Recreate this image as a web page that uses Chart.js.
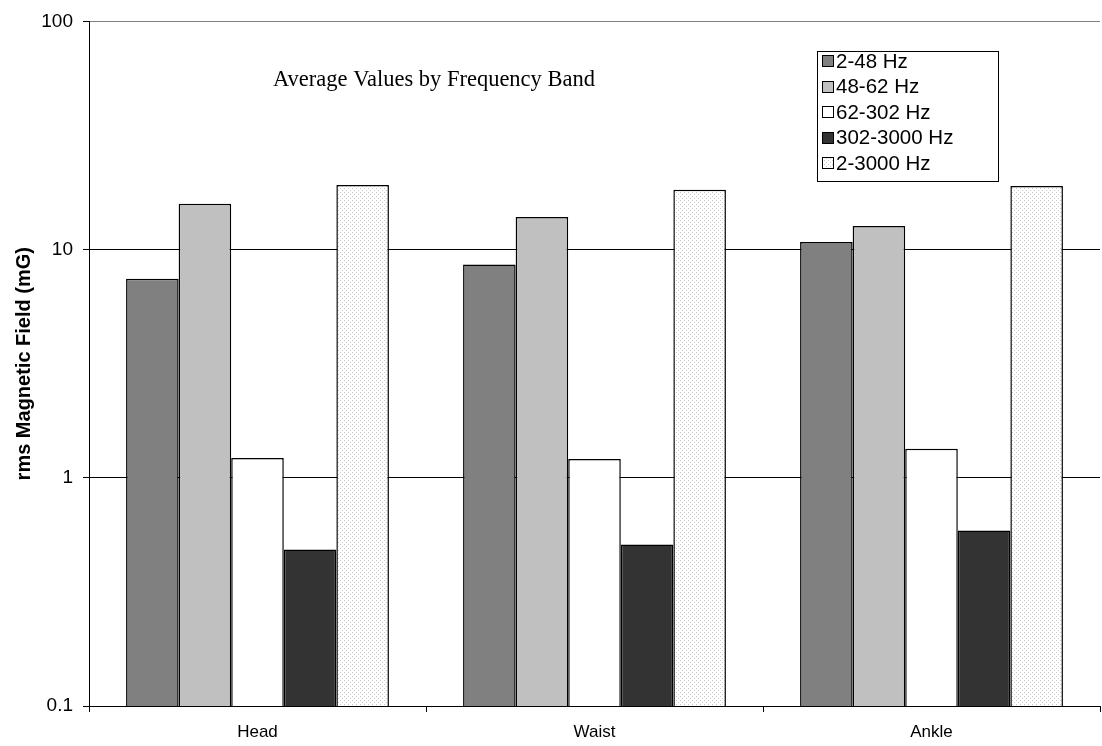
<!DOCTYPE html>
<html>
<head>
<meta charset="utf-8">
<script src="https://cdn.jsdelivr.net/npm/chart.js@4.4.1/dist/chart.umd.min.js"></script>
<style>
  html, body { margin: 0; padding: 0; background: #fff; }
  #wrap { width: 1102px; height: 746px; }
</style>
</head>
<body>
<div id="wrap"><canvas id="c" width="1102" height="746"></canvas></div>
<script>
// ---- Data ----
const categories = ["Head", "Waist", "Ankle"];
const seriesLabels = ["2-48 Hz", "48-62 Hz", "62-302 Hz", "302-3000 Hz", "2-3000 Hz"];
const band_2_48 = [7.45, 8.6, 10.8];
const band_48_62 = [15.9, 13.9, 12.7];
const band_62_302 = [1.22, 1.21, 1.34];
const band_302_3000 = [0.485, 0.51, 0.587];
const band_2_3000 = [19.2, 18.3, 19.0];
const yTickValues = [0.1, 1, 10, 100];
const chartTitle = "Average Values by Frequency Band";
const yTitle = "rms Magnetic Field (mG)";

// dotted pattern for 2-3000 Hz
function makeDots() {
  const p = document.createElement('canvas');
  p.width = 4; p.height = 4;
  const g = p.getContext('2d');
  g.fillStyle = '#ffffff'; g.fillRect(0, 0, 4, 4);
  g.fillStyle = '#c8c8c8';
  g.fillRect(0, 0, 1, 1);
  g.fillRect(2, 2, 1, 1);
  return document.getElementById('c').getContext('2d').createPattern(p, 'repeat');
}
const dots = makeDots();

const fills = ['#808080', '#c0c0c0', '#ffffff', '#333333', dots];
const seriesValues = [band_2_48, band_48_62, band_62_302, band_302_3000, band_2_3000];

const datasets = seriesLabels.map((lab, i) => ({
  label: lab,
  data: seriesValues[i],
  backgroundColor: fills[i],
  borderColor: '#000000',
  borderWidth: 1.5,
  borderSkipped: 'bottom',
  categoryPercentage: 0.78,
  barPercentage: 1.0
}));

const overlayPlugin = {
  id: 'overlay',
  afterDraw(chart) {
    const ctx = chart.ctx;
    ctx.save();
    // in-plot title
    ctx.fillStyle = '#000';
    ctx.font = '22.5px "Liberation Serif", "Times New Roman", serif';
    ctx.textBaseline = 'middle';
    ctx.textAlign = 'left';
    ctx.fillText(chartTitle, 273, 80);
    // legend box
    const bx = 817.5, by = 51.5, bw = 181, bh = 130;
    ctx.fillStyle = '#fff';
    ctx.fillRect(bx, by, bw, bh);
    ctx.strokeStyle = '#000';
    ctx.lineWidth = 1;
    ctx.strokeRect(bx, by, bw, bh);
    ctx.font = '20.5px "Liberation Sans", Arial, sans-serif';
    chart.data.datasets.forEach((ds, i) => {
      const cy = 61 + i * 25.5;
      const top = Math.round(cy - 6);
      ctx.fillStyle = ds.backgroundColor;
      ctx.fillRect(822, top, 12, 12);
      ctx.strokeStyle = '#000';
      ctx.strokeRect(822.5, top + 0.5, 11, 11);
      ctx.fillStyle = '#000';
      ctx.fillText(ds.label, 836, cy + 1);
    });
    ctx.restore();
  }
};

new Chart(document.getElementById('c'), {
  type: 'bar',
  data: { labels: categories, datasets },
  plugins: [overlayPlugin],
  options: {
    responsive: false,
    animation: false,
    layout: { padding: { top: 18, right: 2, bottom: 0, left: 0 } },
    plugins: { legend: { display: false }, tooltip: { enabled: false }, title: { display: false } },
    scales: {
      x: {
        type: 'category',
        offset: true,
        grid: { display: true, drawOnChartArea: false, drawTicks: true, tickLength: 6, color: '#000', offset: true },
        border: { display: true, color: '#000', width: 1 },
        ticks: { color: '#000', font: { family: '"Liberation Sans", Arial, sans-serif', size: 17 }, padding: 10, maxRotation: 0 },
        afterFit(s) { s.height = 40; }
      },
      y: {
        type: 'logarithmic',
        min: 0.1,
        max: 100,
        afterBuildTicks(s) { s.ticks = yTickValues.map(v => ({ value: v })); },
        grid: {
          drawTicks: true, tickLength: 6,
          color: (c) => (c.tick && c.tick.value === 100) ? '#808080' : '#000',
          tickColor: '#000',
          lineWidth: 1
        },
        border: { display: true, color: '#000', width: 1 },
        ticks: {
          color: '#000',
          font: { family: '"Liberation Sans", Arial, sans-serif', size: 19 },
          padding: 10,
          callback: (v) => String(v)
        },
        title: {
          display: true, text: yTitle, color: '#000',
          font: { family: '"Liberation Sans", Arial, sans-serif', size: 20, weight: 'bold' },
          padding: { top: 12, bottom: 0 }
        },
        afterFit(s) { s.width = 89; }
      }
    }
  }
});
</script>
</body>
</html>
